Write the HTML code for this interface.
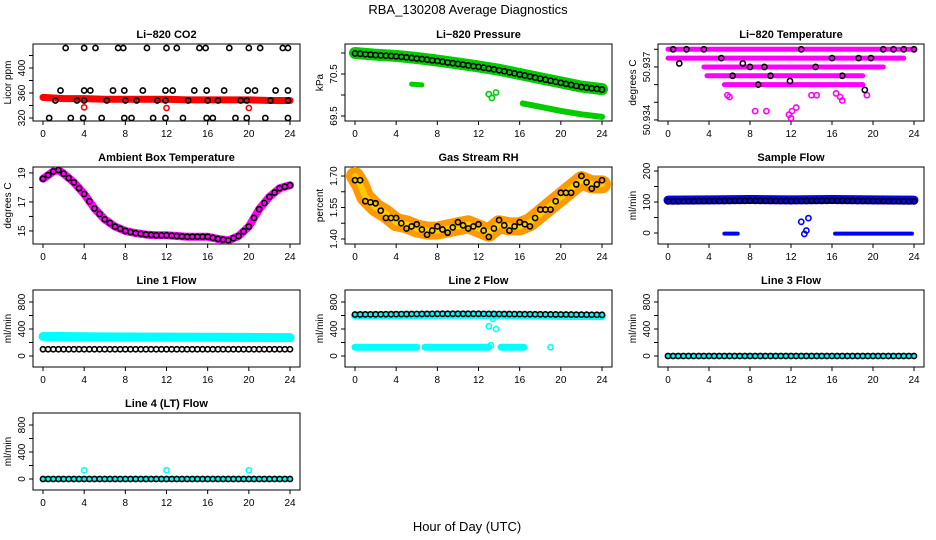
<!DOCTYPE html>
<html><head><meta charset="utf-8"><style>
body{margin:0;background:#fff}
svg{display:block;font-family:"Liberation Sans",sans-serif}
.t{font-size:11px;font-weight:bold;text-anchor:middle}
.k{font-size:10px;text-anchor:middle}
</style></head><body>
<svg id="s" width="936" height="540" xmlns="http://www.w3.org/2000/svg">
<text x="468" y="14" font-size="13" text-anchor="middle">RBA_130208  Average Diagnostics</text>
<text x="467" y="531" font-size="13" text-anchor="middle">Hour of Day (UTC)</text>
</svg>
<script>
const xTicks=[0,4,8,12,16,20,24];
// CO2
const co2BandX=[0,2,4,6,8,10,12,14,16,18,20,22,24];
const co2BandY=[353,351,351,350,350,350,350,349,349,349,349,348,348];
const co2BlackX=[2.2,4,5.1,7.3,7.8,10.1,12,13,15.2,15.8,18.1,20,21.1,23.3,23.8, 0.6,2.7,3.9,5.7,7.9,8.6,10.7,11.9,13.6,15.9,16.5,18.7,19.8,21.6,23.8, 1.7,4,4.6,6.8,7.9,9.7,11.9,12.6,14.7,15.9,17.6,19.9,20.6,22.6,23.8, 1.2,3.3,4,6.2,8,9.1,11.1,11.9,14.1,16,17,19.2,19.8,22.1,23.8];
const co2BlackY=[432,432,432,432,432,432,432,432,432,432,432,432,432,432,432, 320,320,320,320,320,320,320,320,320,320,320,320,320,320,320, 364,364,364,364,364,364,364,364,364,364,364,364,364,364,364, 348,348,348,348,348,348,348,348,348,348,348,348,348,348,348];
const co2RedX=[4,12,20];const co2RedY=[337,336,336];
// Pressure
const presX=[0,2,4,6,8,10,12,14,16,18,20,22,24];
const presY=[71.0,70.96,70.93,70.88,70.82,70.75,70.68,70.6,70.5,70.4,70.3,70.2,70.14];
const pres2X=[16.3,18,20,22,24];const pres2Y=[69.8,69.72,69.62,69.54,69.48];
const pres3X=[5.5,6.5];const pres3Y=[70.26,70.24];
const presDotX=[13,13.3,13.7];const presDotY=[70.02,69.93,70.06];
// Li-820 temperature (levels)
const tmpLevels=[50.938,50.9375,50.937,50.9365,50.936];
const tmpSegX0=[0,0,3.5,3.8,5.5];const tmpSegX1=[24,23,21,19,19];
const tmpDotX=[5.8,6,8.5,9.6,11.8,12,12.1,12.5,14,14.5,16.4,16.8,17,19.4];
const tmpDotY=[50.9354,50.9353,50.9345,50.9345,50.9343,50.9341,50.9345,50.9347,50.9354,50.9354,50.9355,50.9353,50.9351,50.9354];
const tmpBlkX=[0.5,1.1,1.8,3.5,5.2,6.3,7.3,8,8.8,9.4,10,11.9,13,14.4,16,17,18.6,19.2,19.8,21,22,23,24];
const tmpBlkY=[50.938,50.9372,50.938,50.938,50.9375,50.9365,50.9372,50.937,50.936,50.937,50.9365,50.9362,50.938,50.937,50.9375,50.9365,50.9375,50.9357,50.9375,50.938,50.938,50.938,50.938];
// Ambient
const ambX=[0,0.5,1,1.5,2,3,4,5,6,7,8,9,10,11,12,13,14,15,16,17,18,19,20,21,22,23,24];
const ambY=[18.6,18.85,19.1,19.2,18.95,18.35,17.55,16.55,15.8,15.3,15.0,14.85,14.75,14.7,14.7,14.65,14.6,14.6,14.6,14.45,14.35,14.65,15.3,16.5,17.35,17.95,18.15];
// RH
const rhX=[0,0.5,1,2,3,4,5,6,7,8,9,10,11,12,13,14,15,16,17,18,19,20,21,22,23,24];
const rhY=[1.70,1.66,1.6,1.55,1.52,1.48,1.47,1.45,1.44,1.44,1.45,1.46,1.47,1.45,1.43,1.47,1.46,1.46,1.48,1.52,1.56,1.6,1.64,1.68,1.66,1.66];
// Sample flow
const sfX=[0,4,8,12,16,20,24];const sfY=[106,107,108,107,108,107,106];
const sfBlkY=[102,103,104,103,104,103,102];
const sfZ1=[5.5,6.8];const sfZ2=[16.3,23.8];
const sfDotX=[13,13.3,13.5,13.7];const sfDotY=[36,-3,8,48];
// Line flows
const l1Cyan=[290,285,282,280,278,275,272];const l1Blk=[100,100,100,100,100,100,100];
const l2Cyan=[600,605,610,610,600,595,590];const l2Blk=[615,620,625,625,620,615,610];
const l2LowX0=[0,6.8,14.2];const l2LowX1=[6,13,16.4];const l2LowY=130;
const l2DotX=[13,13.2,13.4,13.7,19];const l2DotY=[440,160,550,400,130];
const l4DotX=[4,12,20];const l4DotY=[130,130,130];
const zeroFlow=[0,0,0,0,0,0,0];

const svg=document.getElementById('s');const NS='http://www.w3.org/2000/svg';
function el(t,a,p){const e=document.createElementNS(NS,t);for(const k in a)e.setAttribute(k,a[k]);(p||svg).appendChild(e);return e;}
const cols=[[33,300],[345,612],[658,924]];const rows=[[44,121],[167,244],[290,367],[413,490]];
function panel(c,r,title,ylab,y0,y1,ticks,labs,name){
 const [L,R]=cols[c],[T,B]=rows[r];
 const g=el('g',{});
 
 
 const x=v=>L+10+v*(R-L-20)/24, y=v=>B-(v-y0)*(B-T)/(y1-y0);
 const box=el('rect',{x:L,y:T,width:R-L,height:B-T,fill:'none',stroke:'#000'},g);
 
 const tt=el('text',{x:(L+R)/2,y:T-6,class:'t'},g);tt.textContent=title;
 
 const yl=el('text',{x:0,y:0,transform:`translate(${L-22},${(T+B)/2}) rotate(-90)`,class:'k'},g);yl.textContent=ylab;
 
 xTicks.forEach(v=>{el('line',{x1:x(v),x2:x(v),y1:B,y2:B+4,stroke:'#000'},g);const t=el('text',{x:x(v),y:B+16,class:'k'},g);t.textContent=v;
  });
 ticks.forEach((v,i)=>{el('line',{x1:L,x2:L-4,y1:y(v),y2:y(v),stroke:'#000'},g);if(labs[i]){const t=el('text',{x:0,y:0,transform:`translate(${L-8},${y(v)}) rotate(-90)`,class:'k'},g);t.textContent=labs[i];
  }});
 const clip='c'+c+r;const cp=el('clipPath',{id:clip},g);el('rect',{x:L,y:T,width:R-L,height:B-T},cp);
 const d=el('g',{'clip-path':`url(#${clip})`},g);
 return {x,y,d};
}
function band(p,X,Y,col,w,name){const pts=X.map((v,i)=>p.x(v)+','+p.y(Y[i])).join(' ');const e=el('polyline',{points:pts,fill:'none',stroke:col,'stroke-width':w,'stroke-linecap':'round','stroke-linejoin':'round'},p.d);
 }
function pts(p,X,Y,col,name){X.forEach((v,i)=>{const e=el('circle',{cx:p.x(v),cy:p.y(Y[i]),r:2.6,fill:'none',stroke:col,'stroke-width':1.6},p.d);
 });}
function hourly(p,X,Y,col,name,step){const xs=[],ys=[];for(let h=X[0];h<=X[X.length-1]+1e-9;h+=step){let j=0;while(j<X.length-2&&X[j+1]<h)j++;const f=(h-X[j])/(X[j+1]-X[j]);xs.push(h);ys.push(Y[j]+f*(Y[j+1]-Y[j]));}pts(p,xs,ys,col,name);}

let p=panel(0,0,'Li−820 CO2','Licor ppm',315.2,438.4,[320,340,360,380,400,420],['320','','360','','400','']);
band(p,co2BandX,co2BandY,'#f00',7,'co2-red-band');pts(p,co2RedX,co2RedY,'#f00','co2-red-point');pts(p,co2BlackX,co2BlackY,'#000','co2-black-point');

p=panel(1,0,'Li−820 Pressure','kPa',69.381,71.214,[69.5,70,70.5,71],['69.5','','70.5','']);
band(p,presX,presY,'#0c0',12,'pressure-green-band');band(p,pres2X,pres2Y,'#0c0',6,'pressure-lower-band');band(p,pres3X,pres3Y,'#0c0',5,'pressure-segment');
pts(p,presDotX,presDotY,'#0c0','pressure-green-point');hourly(p,presX.slice(0),presY.map(v=>v-0.01),'#000','pressure-black-point',0.5);

p=panel(2,0,'Li−820 Temperature','degrees C',50.93394,50.93830,[50.934,50.935,50.936,50.937,50.938],['50.934','','','50.937','']);
tmpLevels.forEach((lv,i)=>band(p,[tmpSegX0[i],tmpSegX1[i]],[lv,lv],'#f0f',5,'temp-magenta-band'));
pts(p,tmpDotX,tmpDotY,'#f0f','temp-magenta-point');pts(p,tmpBlkX,tmpBlkY,'#000','temp-black-point');

p=panel(0,1,'Ambient Box Temperature','degrees C',14.10,19.41,[15,16,17,18,19],['15','','17','','19']);
band(p,ambX,ambY,'#f0f',8,'ambient-magenta-band');hourly(p,ambX,ambY,'#000','ambient-black-point',0.5);

p=panel(1,1,'Gas Stream RH','percent',1.376,1.743,[1.40,1.475,1.55,1.625,1.70],['1.40','','1.55','','1.70']);
band(p,rhX,rhY,'#f90',18,'rh-orange-band');band(p,rhX,rhY,'#fc0',6,'rh-yellow-core');hourly(p,rhX,rhY.map((v,i)=>v+(i%2?0.02:-0.02)),'#000','rh-black-point',0.5);

p=panel(2,1,'Sample Flow','ml/min',-35.5,212.9,[0,50,100,150,200],['0','','100','','200']);
band(p,sfX,sfY,'#00f',9,'sample-blue-band');band(p,sfZ1,[-2,-2],'#00f',4,'sample-zero-segment');band(p,sfZ2,[-2,-2],'#00f',4,'sample-zero-band');
pts(p,sfDotX,sfDotY,'#00f','sample-blue-point');hourly(p,sfX,sfBlkY,'#000','sample-black-point',0.5);

const fT=[0,200,400,600,800],fL=['0','','400','','800'];
p=panel(0,2,'Line 1 Flow','ml/min',-163,977.8,fT,fL);
band(p,xTicks,l1Cyan,'#0ff',9,'line1-cyan-band');hourly(p,xTicks,l1Blk,'#000','line1-black-point',0.5);
p=panel(1,2,'Line 2 Flow','ml/min',-163,977.8,fT,fL);
band(p,xTicks,l2Cyan,'#0ff',8,'line2-cyan-band');l2LowX0.forEach((a,i)=>band(p,[a,l2LowX1[i]],[l2LowY,l2LowY],'#0ff',7,'line2-low-band'));
pts(p,l2DotX,l2DotY,'#0ff','line2-cyan-point');hourly(p,xTicks,l2Blk,'#000','line2-black-point',0.5);
p=panel(2,2,'Line 3 Flow','ml/min',-163,977.8,fT,fL);
band(p,xTicks,zeroFlow,'#0ff',6,'line3-cyan-band');hourly(p,xTicks,zeroFlow,'#000','line3-black-point',0.5);
p=panel(0,3,'Line 4 (LT) Flow','ml/min',-163,977.8,fT,fL);
band(p,xTicks,zeroFlow,'#0ff',6,'line4-cyan-band');pts(p,l4DotX,l4DotY,'#0ff','line4-cyan-point');hourly(p,xTicks,zeroFlow,'#000','line4-black-point',0.5);
</script>
</body></html>
